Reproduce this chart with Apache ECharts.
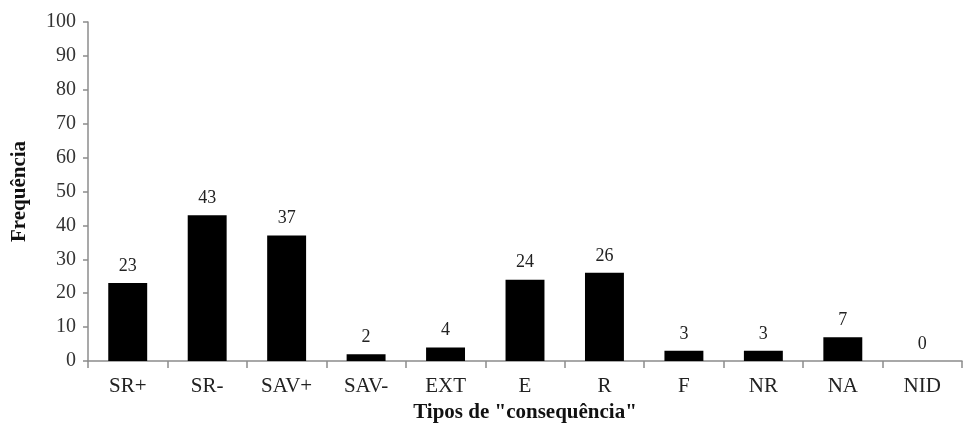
<!DOCTYPE html>
<html><head><meta charset="utf-8">
<script src="https://cdn.jsdelivr.net/npm/echarts@6/dist/echarts.min.js"></script>
<style>html,body{margin:0;padding:0;background:#fff}#c{width:965px;height:430px}</style>
</head><body><div id="c"></div>
<script>
const categories = ["SR+","SR-","SAV+","SAV-","EXT","E","R","F","NR","NA","NID"];
const values = [23,43,37,2,4,24,26,3,3,7,0];
const yTicks = {min:0, max:100, interval:10};
const FONT = '"Liberation Serif","Times New Roman",serif';
const chart = echarts.init(document.getElementById('c'), null, {renderer:'canvas'});
chart.setOption({
  animation:false,
  backgroundColor:'#fff',
  grid:{left:88, right:3, top:22, bottom:69, containLabel:false},
  xAxis:{
    type:'category', data:categories,
    axisLine:{lineStyle:{color:'#8c8c8c', width:1.5}},
    axisTick:{show:true, length:7, lineStyle:{color:'#8c8c8c', width:1.5}},
    axisLabel:{color:'#222', fontFamily:FONT, fontSize:21, margin:15},
    name:'Tipos de "consequência"', nameLocation:'middle', nameGap:40,
    nameTextStyle:{color:'#111', fontFamily:FONT, fontSize:21, fontWeight:'bold'}
  },
  yAxis:{
    type:'value', min:yTicks.min, max:yTicks.max, interval:yTicks.interval,
    axisLine:{show:true, lineStyle:{color:'#8c8c8c', width:1.5}},
    axisTick:{show:true, length:5, lineStyle:{color:'#8c8c8c', width:1.5}},
    splitLine:{show:false},
    axisLabel:{color:'#333', fontFamily:FONT, fontSize:20, margin:12},
    name:'Frequência', nameLocation:'middle', nameGap:58,
    nameTextStyle:{color:'#111', fontFamily:FONT, fontSize:21, fontWeight:'bold'}
  },
  series:[{
    type:'bar', data:values, barWidth:'49%',
    itemStyle:{color:'#000'},
    label:{show:true, position:'top', distance:8, color:'#222', fontFamily:FONT, fontSize:18}
  }]
});
</script></body></html>
